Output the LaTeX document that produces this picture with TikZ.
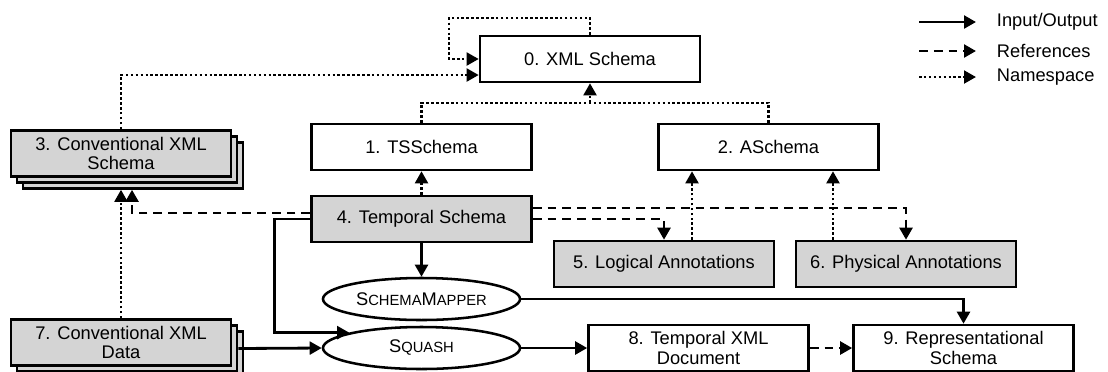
\documentclass[tikz,border=0pt]{standalone}
\usepackage{fontspec}
\setmainfont{Liberation Sans}
\usetikzlibrary{positioning}
\usetikzlibrary{arrows.meta}
\usetikzlibrary{shapes.geometric}
\usetikzlibrary{shadows}
\definecolor{boxgray}{RGB}{212,212,212}
\newcommand{\smallcap}[2]{#1{\fontsize{10.5}{12}\selectfont #2}}

\begin{document}
\begin{tikzpicture}[x=0.025cm, y=-0.025cm,
  font=\fontsize{13}{14}\selectfont,
  box/.style={draw, line width=1.8pt, minimum width=5.5cm, minimum height=1.15cm, align=center, inner sep=1pt},
  graybox/.style={box, fill=boxgray},
  stackbox/.style={graybox, double copy shadow={shadow xshift=0.15cm, shadow yshift=-0.15cm}},
  proc/.style={draw, ellipse, line width=1.8pt, minimum width=4.925cm, minimum height=1.05cm, inner sep=0pt},
  io/.style={line width=2pt, -{Triangle[length=0.3cm,width=0.32cm]}},
  ref/.style={io, dash pattern=on 0.22cm off 0.15cm},
  ns/.style={io, line width=1.8pt, dash pattern=on 1.8pt off 1.7pt}]
  \useasboundingbox (0,0) rectangle (1108,371);

  % Schemas
  \node[box] (xml) at (590,59) {0. XML Schema};
  \node[box] (tss) at (421.5,147) {1. TSSchema};
  \node[box] (asch) at (768.5,147) {2. ASchema};
  \node[stackbox] (conv) at (121,153.5) {3. Conventional XML\\Schema};
  \node[graybox] (temp) at (421.5,219) {4. Temporal Schema};
  \node[graybox] (logi) at (664,264) {5. Logical Annotations};
  \node[graybox] (phys) at (906,264) {6. Physical Annotations};
  \node[stackbox] (data) at (121,342.5) {7. Conventional XML\\Data};
  \node[box] (tdoc) at (698.5,348) {8. Temporal XML\\Document};
  \node[box] (rep) at (963.5,348) {9. Representational\\Schema};

  % Tools
  \node[proc] (mapper) at (421.5,299) {\smallcap{S}{CHEMA}\smallcap{M}{APPER}};
  \node[proc] (squash) at (421.5,348) {\smallcap{S}{QUASH}};

  % Namespace
  \coordinate (loop) at (449,18);
  \draw[ns] (xml.north) |- (loop) |- (xml.west);
  \draw[ns] (conv.north) |- ([yshift=-0.4cm]xml.west);
  \coordinate (nsjoin) at (590,103);
  \draw[ns,-] (tss.north) |- (nsjoin) -| (asch.north);
  \draw[ns] (nsjoin) -- (xml.south);
  \draw[ns] (temp.north) -- (tss.south);
  \coordinate (ns5) at ([xshift=0.7cm]logi.north);
  \draw[ns] (ns5) -- (ns5 |- asch.south);
  \coordinate (ns6) at ([xshift=-1.825cm]phys.north);
  \draw[ns] (ns6) -- (ns6 |- asch.south);
  \draw[ns] (data.north) -- ([yshift=-0.3cm]conv.south);

  % References
  \draw[ref] ([yshift=0.15cm]temp.west) -| ([xshift=0.275cm,yshift=-0.3cm]conv.south);
  \draw[ref] ([yshift=0.275cm]temp.east) -| (phys.north);
  \draw[ref] (temp.east) -| (logi.north);
  \draw[ref] (tdoc.east) -- (rep.west);

  % Input/Output
  \draw[io] (temp.south) -- (mapper.north);
  \draw[io] (temp.west) -| ([xshift=-1.87cm]squash.168) -- (squash.168);
  \draw[io] ([xshift=0.15cm,yshift=-0.15cm]data.east) -- (squash.west);
  \draw[io] (mapper.east) -| (rep.north);
  \draw[io] (squash.east) -- (tdoc.west);

  % Legend
  \foreach \y/\sty/\txt [count=\i] in {22/io/{Input/Output}, 51/ref/References, 77/ns/Namespace} {
    \coordinate (lgs\i) at (919,\y);
    \node[anchor=west] (lgt\i) at (992,\y) {\txt};
    \draw[\sty] (lgs\i) -- ([xshift=-0.4cm]lgt\i.west);
  }
\end{tikzpicture}
\end{document}
